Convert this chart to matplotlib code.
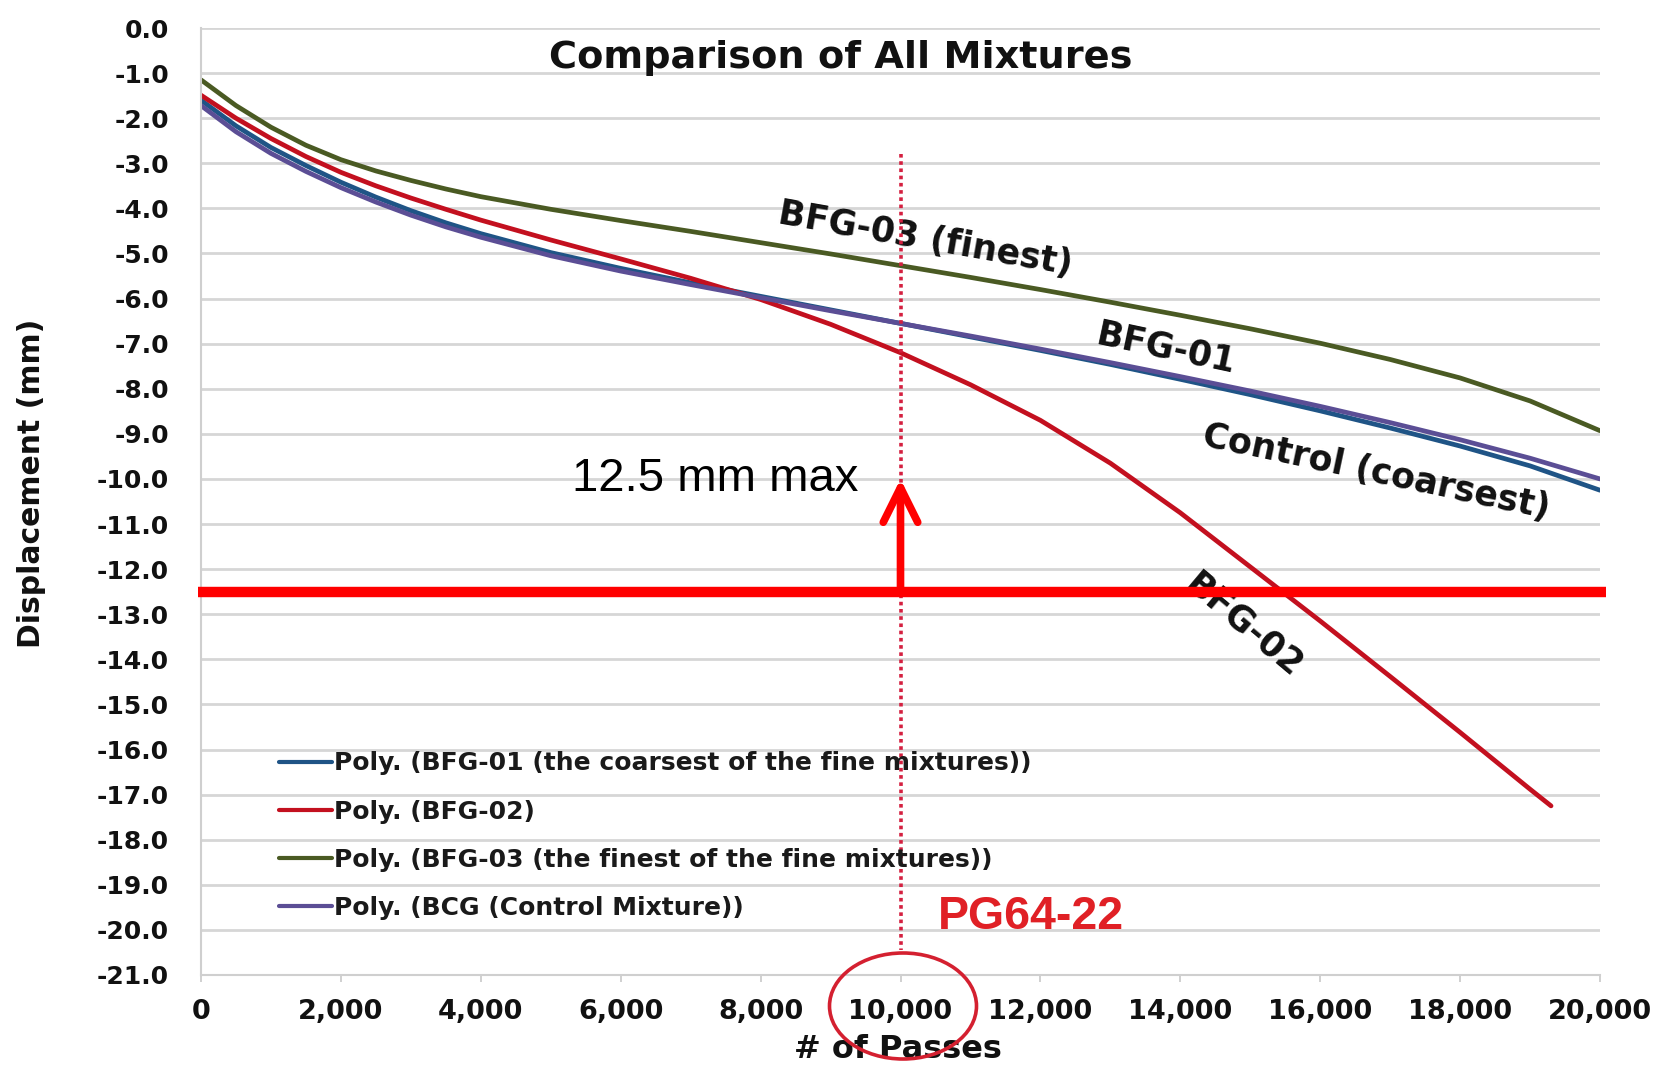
import numpy as np
import matplotlib
matplotlib.use("Agg")
import matplotlib.pyplot as plt
from matplotlib.patches import Ellipse

# ---- data -------------------------------------------------------------
passes = [0, 500, 1000, 1500, 2000, 2500, 3000, 3500, 4000, 5000, 6000,
          7000, 8000, 9000, 10000, 11000, 12000, 13000, 14000, 15000,
          16000, 17000, 18000, 19000, 20000]

bfg01 = [-1.60, -2.17, -2.65, -3.05, -3.42, -3.75, -4.05, -4.32, -4.56,
         -4.98, -5.33, -5.65, -5.95, -6.25, -6.55, -6.85, -7.15, -7.46,
         -7.79, -8.13, -8.49, -8.87, -9.27, -9.71, -10.25]

passes_bfg02 = [0, 500, 1000, 1500, 2000, 2500, 3000, 3500, 4000, 5000,
                6000, 7000, 8000, 9000, 10000, 11000, 12000, 13000, 14000,
                15000, 16000, 17000, 18000, 19000, 19300]
bfg02 = [-1.49, -2.00, -2.45, -2.85, -3.20, -3.50, -3.77, -4.02, -4.26,
         -4.70, -5.12, -5.55, -6.02, -6.57, -7.20, -7.91, -8.70, -9.65,
         -10.75, -11.95, -13.15, -14.38, -15.62, -16.88, -17.25]

bfg03 = [-1.15, -1.72, -2.20, -2.60, -2.92, -3.17, -3.38, -3.57, -3.74,
         -4.02, -4.27, -4.51, -4.76, -5.01, -5.27, -5.53, -5.80, -6.08,
         -6.37, -6.67, -6.99, -7.35, -7.76, -8.27, -8.93]

control = [-1.72, -2.30, -2.78, -3.18, -3.54, -3.86, -4.15, -4.41, -4.64,
           -5.05, -5.39, -5.69, -5.98, -6.27, -6.55, -6.83, -7.12, -7.42,
           -7.73, -8.05, -8.39, -8.75, -9.13, -9.54, -10.00]

legend_labels = [
    "Poly. (BFG-01 (the coarsest of the fine mixtures))",
    "Poly. (BFG-02)",
    "Poly. (BFG-03 (the finest of the fine mixtures))",
    "Poly. (BCG (Control Mixture))",
]

x_ticks = [0, 2000, 4000, 6000, 8000, 10000, 12000, 14000, 16000, 18000, 20000]
x_tick_labels = ["0", "2,000", "4,000", "6,000", "8,000", "10,000", "12,000",
                 "14,000", "16,000", "18,000", "20,000"]
y_ticks = [float(-v) for v in range(0, 22)]
y_tick_labels = ["0.0"] + [f"-{v}.0" for v in range(1, 22)]

rut_limit = -12.5        # maximum allowed rut depth (mm)
arrow_top = -10.0
design_passes = 10000    # required number of passes for PG64-22

# ---- styling ------------------------------------------------------------
BOLD = dict(family="DejaVu Sans", weight="bold")
colors = ["#1f5486", "#c3101f", "#4a5a23", "#5b4e95"]

fig = plt.figure(figsize=(16.63, 10.72), dpi=100)
ax = fig.add_axes([201 / 1663, 1 - 975 / 1072, 1399 / 1663, 947 / 1072])

ax.set_xlim(0, 20000)
ax.set_ylim(-21, 0)

ax.set_yticks(y_ticks)
ax.set_yticklabels(y_tick_labels, fontsize=18, **BOLD, color="#111111")
ax.set_xticks(x_ticks)
ax.set_xticklabels(x_tick_labels, fontsize=19.5, **BOLD, color="#111111")
ax.tick_params(axis="y", length=0, pad=23)
ax.tick_params(axis="x", length=5, width=1.2, color="#c8c8c8", pad=12)

ax.grid(axis="y", color="#d6d6d6", lw=2.0)
ax.set_axisbelow(True)
for side in ("top", "right"):
    ax.spines[side].set_visible(False)
for side in ("left", "bottom"):
    ax.spines[side].set_color("#cfcfcf")
    ax.spines[side].set_linewidth(1.5)

# ---- series ------------------------------------------------------------
lines = []
style = dict(lw=3.4, solid_capstyle="round", solid_joinstyle="round")
lines += ax.plot(passes, bfg01, color=colors[0], **style)
lines += ax.plot(passes_bfg02, bfg02, color=colors[1], **style)
lines += ax.plot(passes, bfg03, color=colors[2], **style)
lines += ax.plot(passes, control, color=colors[3], **style)

leg = ax.legend(lines, legend_labels, loc="center left",
                bbox_to_anchor=(0.056, 0.147), frameon=False,
                prop=dict(size=18, **BOLD), handlelength=2.1,
                handletextpad=0.1, labelspacing=0.97, borderpad=0,
                borderaxespad=0)
for t in leg.get_texts():
    t.set_color("#1a1a1a")
for h in leg.get_lines():
    h.set_linewidth(3.0)

# ---- titles and axis labels ---------------------------------------------
ax.text(9150, -0.66, "Comparison of All Mixtures", ha="center", va="center",
        fontsize=27.5, color="#111111", **BOLD)
ax.set_xlabel("# of Passes", fontsize=23, color="#111111", **BOLD)
ax.xaxis.set_label_coords((898 - 201) / 1399, (975 - 1050) / 947)
ax.xaxis.label.set_va("center")
ax.set_ylabel("Displacement (mm)", fontsize=21.5, color="#111111", **BOLD)
ax.yaxis.set_label_coords((32 - 201) / 1399, (975 - 483) / 947)
ax.yaxis.label.set_va("center")

# ---- curve labels --------------------------------------------------------
lab = dict(fontsize=25, color="#111111", ha="center", va="center",
           rotation_mode="anchor", **BOLD)
ax.text(10350, -4.68, "BFG-03 (finest)", rotation=-10, **lab)
ax.text(13800, -7.10, "BFG-01", rotation=-12, **lab)
ax.text(16800, -9.85, "Control (coarsest)", rotation=-12, **lab)
ax.text(14900, -13.26, "BFG-02", rotation=-40, **lab)

# ---- rut-depth criterion and design passes -------------------------------
ax.plot([design_passes, design_passes], [-2.8, -20.45], color="#d42040",
        lw=2.6, ls=(0, (1, 1)), zorder=3)
ax.axhline(rut_limit, xmin=-0.002, xmax=1.004, color="#ff0000", lw=7.5,
           clip_on=False, solid_capstyle="butt", zorder=4)
ax.annotate("", xy=(design_passes, arrow_top),
            xytext=(design_passes, rut_limit),
            arrowprops=dict(arrowstyle="->,head_length=1.25,head_width=0.62",
                            color="#ff0000", lw=5.5, mutation_scale=20,
                            shrinkA=0, shrinkB=0, capstyle="round",
                            joinstyle="round"),
            zorder=5)
ax.text(7350, -10.26, "12.5 mm max", ha="center", va="baseline",
        fontsize=34, family="Liberation Sans", color="#000000")
ax.text(10540, -19.71, "PG64-22", ha="left", va="center", fontsize=33.5,
        family="Liberation Sans", weight="bold", color="#e02025")

fig.add_artist(Ellipse((903 / 1663, 1 - 1006 / 1072), 147 / 1663, 106 / 1072,
                       transform=fig.transFigure, fill=False,
                       edgecolor="#d42030", lw=2.6))

fig.savefig("out.png", dpi=100, facecolor="white")
